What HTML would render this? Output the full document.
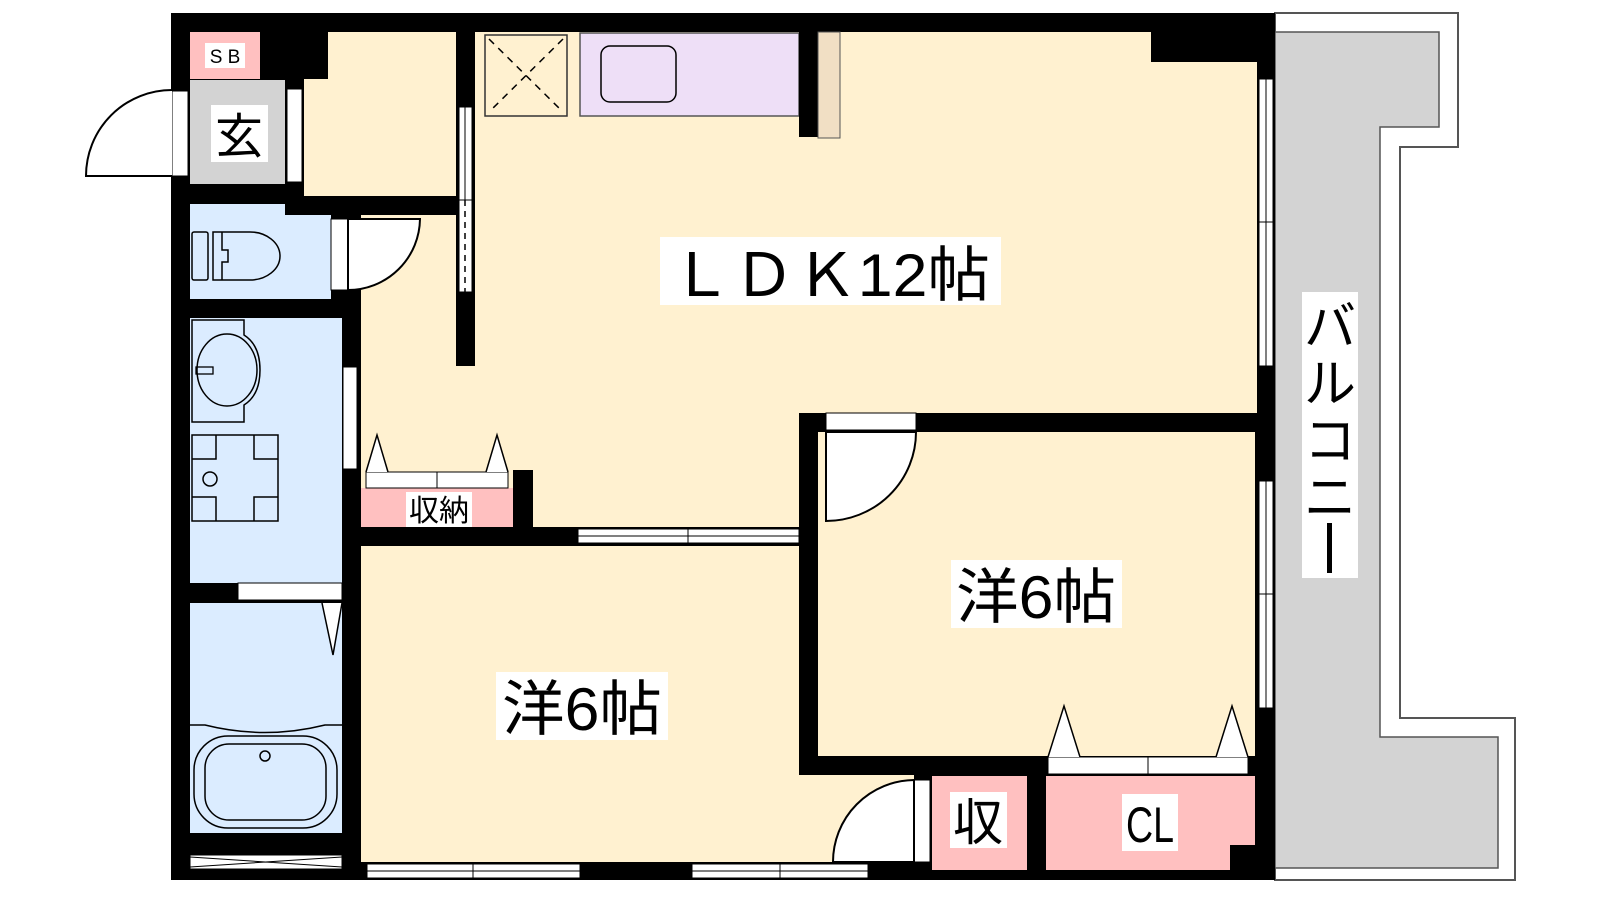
<!DOCTYPE html>
<html><head><meta charset="utf-8"><style>
html,body{margin:0;padding:0;background:#fff;}
svg{display:block;}
text{font-family:"Liberation Sans","Noto Sans CJK JP",sans-serif;}
</style></head><body>
<svg width="1600" height="900" viewBox="0 0 1600 900" xmlns="http://www.w3.org/2000/svg">
<!-- balcony -->
<path d="M1275,13 H1458 V147 H1400 V718 H1515 V880 H1275 Z" fill="#fff" stroke="#555" stroke-width="2"/>
<path d="M1275,32 H1439 V127 H1380 V737 H1498 V868 H1275 Z" fill="#d3d3d3" stroke="#555" stroke-width="1.5"/>
<!-- building black base -->
<rect x="171" y="13" width="1104" height="867" fill="#000"/>
<!-- rooms -->
<rect x="304" y="79" width="152" height="117" fill="#fff1d0"/>
<rect x="328" y="32" width="128" height="50" fill="#fff1d0"/>
<rect x="475" y="32" width="782" height="381" fill="#fff1d0"/>
<rect x="1151" y="32" width="106" height="30" fill="#000"/>
<rect x="361" y="215" width="95" height="151" fill="#fff1d0"/>
<rect x="361" y="366" width="438" height="161" fill="#fff1d0"/>
<rect x="361" y="546" width="438" height="316" fill="#fff1d0"/>
<rect x="799" y="775" width="115" height="87" fill="#fff1d0"/>
<rect x="818" y="432" width="437" height="324" fill="#fff1d0"/>
<!-- SB / genkan -->
<rect x="190" y="32" width="70" height="47" fill="#ffc0c0"/>
<rect x="205" y="43" width="40" height="25" fill="#fff"/>
<text x="225" y="63" font-size="19" text-anchor="middle">S B</text>
<rect x="190" y="80" width="95" height="104" fill="#d3d3d3"/>
<rect x="211" y="105" width="57" height="57" fill="#fff"/>
<text x="239" y="153" font-size="48" text-anchor="middle">玄</text>
<rect x="172" y="91" width="16" height="85" fill="#fff" stroke="#000" stroke-width="1"/>
<rect x="287" y="89" width="15" height="93" fill="#fff" stroke="#000" stroke-width="1"/>
<path d="M172,176 H86 A86,86 0 0 1 172,90" fill="#fff" stroke="#000" stroke-width="2"/>
<!-- toilet -->
<rect x="190" y="204" width="95" height="95" fill="#dbecff"/>
<rect x="285" y="215" width="46" height="84" fill="#dbecff"/>
<rect x="192" y="232" width="16" height="48" rx="2" fill="none" stroke="#000" stroke-width="1.5"/>
<path d="M213,232 H250 A30,24 0 0 1 250,280 H213 Z M213,232 V280 M222,232 V250 H228 V262 H222 V280" fill="none" stroke="#000" stroke-width="1.5"/>
<rect x="331" y="219" width="17" height="71" fill="#fff" stroke="#000" stroke-width="1"/>
<path d="M348,219 H420 A72,72 0 0 1 348,290 Z" fill="#fff" stroke="#000" stroke-width="2"/>
<!-- washroom -->
<rect x="190" y="318" width="152" height="265" fill="#dbecff"/>
<path d="M192,320 H244 V335 Q260,345 260,370 Q260,395 244,405 V422 H192 Z" fill="none" stroke="#000" stroke-width="1.5"/>
<ellipse cx="227" cy="370" rx="36" ry="30" fill="none" stroke="#000" stroke-width="1.5" transform="rotate(90 227 370)"/>
<rect x="196" y="367" width="17" height="7" fill="none" stroke="#000" stroke-width="1.3"/>
<rect x="192" y="435" width="86" height="86" fill="none" stroke="#000" stroke-width="1.5"/>
<path d="M192,459 H216 V435 M254,435 V459 H278 M192,497 H216 V521 M254,521 V497 H278" fill="none" stroke="#000" stroke-width="1.5"/>
<circle cx="210" cy="479" r="7" fill="none" stroke="#000" stroke-width="1.5"/>
<rect x="343" y="367" width="14" height="102" fill="#fff" stroke="#000" stroke-width="1"/>
<!-- bath -->
<rect x="238" y="583" width="104" height="17" fill="#fff" stroke="#000" stroke-width="1"/>
<rect x="190" y="603" width="152" height="230" fill="#dbecff"/>
<path d="M322,603 L333,655 L342,603" fill="#fff" stroke="#000" stroke-width="1.5"/>
<path d="M190,725 H205 Q265,740 325,725 H342" fill="none" stroke="#000" stroke-width="1.5"/>
<rect x="194" y="736" width="143" height="92" rx="34" fill="none" stroke="#000" stroke-width="1.5"/>
<rect x="205" y="744" width="121" height="76" rx="24" fill="none" stroke="#000" stroke-width="1.5"/>
<circle cx="265" cy="756" r="5" fill="none" stroke="#000" stroke-width="1.5"/>
<rect x="190" y="855" width="152" height="14" fill="#fff" stroke="#000" stroke-width="1"/>
<path d="M190,857 L342,867 M190,867 L342,857" stroke="#000" stroke-width="1"/>
<!-- storage 収納 -->
<rect x="361" y="488" width="152" height="39" fill="#ffc0c0"/>
<rect x="366" y="472" width="142" height="16" fill="#fff" stroke="#000" stroke-width="1"/>
<line x1="437" y1="472" x2="437" y2="488" stroke="#000" stroke-width="1"/>
<path d="M366,472 L377,435 L388,472 M486,472 L497,435 L508,472" fill="#fff" stroke="#000" stroke-width="1.5"/>
<rect x="406" y="492" width="66" height="35" fill="#fff"/>
<text x="439" y="521" font-size="30" text-anchor="middle">収納</text>
<rect x="513" y="470" width="20" height="76" fill="#000"/>
<!-- LDK partition window -->
<rect x="459" y="107" width="13" height="185" fill="#fff" stroke="#000" stroke-width="1"/>
<line x1="465" y1="107" x2="465" y2="200" stroke="#000" stroke-width="1"/>
<line x1="465" y1="200" x2="465" y2="292" stroke="#000" stroke-width="1.5" stroke-dasharray="6,5"/>
<line x1="459" y1="200" x2="472" y2="200" stroke="#000" stroke-width="1"/>
<!-- kitchen -->
<rect x="485" y="35" width="82" height="81" fill="#fff1d0" stroke="#333" stroke-width="1.5"/>
<path d="M489,39 L563,112 M563,39 L489,112" stroke="#000" stroke-width="1.5" stroke-dasharray="7,6"/>
<rect x="580" y="33" width="219" height="83" fill="#eedff7" stroke="#555" stroke-width="1.5"/>
<rect x="601" y="46" width="75" height="56" rx="9" fill="none" stroke="#000" stroke-width="1.5"/>
<rect x="799" y="32" width="19" height="105" fill="#000"/>
<rect x="818" y="32" width="22" height="106" fill="#f1dfc4" stroke="#555" stroke-width="1"/>
<!-- LDK label -->
<rect x="660" y="237" width="341" height="68" fill="#fff"/>
<text x="830" y="296" font-size="60" text-anchor="middle" textLength="320" lengthAdjust="spacingAndGlyphs">ＬＤＫ12帖</text>
<!-- right wall windows -->
<rect x="1259" y="79" width="14" height="287" fill="#fff" stroke="#000" stroke-width="1"/>
<line x1="1266" y1="79" x2="1266" y2="366" stroke="#000" stroke-width="1"/>
<line x1="1259" y1="222" x2="1273" y2="222" stroke="#000" stroke-width="1"/>
<rect x="1259" y="481" width="14" height="227" fill="#fff" stroke="#000" stroke-width="1"/>
<line x1="1266" y1="481" x2="1266" y2="708" stroke="#000" stroke-width="1"/>
<line x1="1259" y1="594" x2="1273" y2="594" stroke="#000" stroke-width="1"/>
<!-- LDK / bedroom1 window -->
<rect x="578" y="529" width="221" height="14" fill="#fff" stroke="#000" stroke-width="1"/>
<line x1="578" y1="536" x2="799" y2="536" stroke="#000" stroke-width="1"/>
<line x1="688" y1="529" x2="688" y2="543" stroke="#000" stroke-width="1"/>
<!-- bottom windows -->
<rect x="367" y="864" width="213" height="14" fill="#fff" stroke="#000" stroke-width="1"/>
<line x1="367" y1="871" x2="580" y2="871" stroke="#000" stroke-width="1"/>
<line x1="473" y1="864" x2="473" y2="878" stroke="#000" stroke-width="1"/>
<rect x="692" y="864" width="176" height="14" fill="#fff" stroke="#000" stroke-width="1"/>
<line x1="692" y1="871" x2="868" y2="871" stroke="#000" stroke-width="1"/>
<line x1="780" y1="864" x2="780" y2="878" stroke="#000" stroke-width="1"/>
<!-- bedroom1 label -->
<rect x="496" y="672" width="172" height="68" fill="#fff"/>
<text x="582" y="730" font-size="60" text-anchor="middle" textLength="160" lengthAdjust="spacingAndGlyphs">洋6帖</text>
<!-- bedroom2 door -->
<rect x="826" y="413" width="90" height="17" fill="#fff" stroke="#000" stroke-width="1"/>
<path d="M826,432 H916 A90,89 0 0 1 826,521 Z" fill="#fff" stroke="#000" stroke-width="2"/>
<rect x="951" y="560" width="171" height="68" fill="#fff"/>
<text x="1036" y="618" font-size="60" text-anchor="middle" textLength="160" lengthAdjust="spacingAndGlyphs">洋6帖</text>
<!-- 収 / CL -->
<rect x="932" y="776" width="95" height="94" fill="#ffc0c0"/>
<rect x="1046" y="776" width="209" height="94" fill="#ffc0c0"/>
<rect x="1230" y="845" width="25" height="25" fill="#000"/>
<rect x="1048" y="757" width="200" height="17" fill="#fff" stroke="#000" stroke-width="1"/>
<line x1="1148" y1="757" x2="1148" y2="774" stroke="#000" stroke-width="1"/>
<path d="M1048,757 L1064,706 L1080,757 M1216,757 L1232,706 L1248,757" fill="#fff" stroke="#000" stroke-width="1.5"/>
<rect x="914" y="780" width="16" height="82" fill="#fff" stroke="#000" stroke-width="1"/>
<path d="M914,780 V862 H833 A82,82 0 0 1 914,780 Z" fill="#fff" stroke="#000" stroke-width="2"/>
<rect x="950" y="792" width="57" height="56" fill="#fff"/>
<text x="978" y="840" font-size="50" text-anchor="middle">収</text>
<rect x="1122" y="794" width="56" height="57" fill="#fff"/>
<text x="1150" y="842" font-size="50" text-anchor="middle" textLength="48" lengthAdjust="spacingAndGlyphs">CL</text>
<!-- balcony label -->
<rect x="1302" y="292" width="56" height="286" fill="#fff"/>
<text x="1330" y="345" font-size="52" text-anchor="middle">バ</text>
<text x="1330" y="402" font-size="52" text-anchor="middle">ル</text>
<text x="1330" y="459" font-size="52" text-anchor="middle">コ</text>
<text x="1330" y="516" font-size="52" text-anchor="middle">ニ</text>
<rect x="1327" y="523" width="5" height="50" fill="#000"/>
</svg>
</body></html>
